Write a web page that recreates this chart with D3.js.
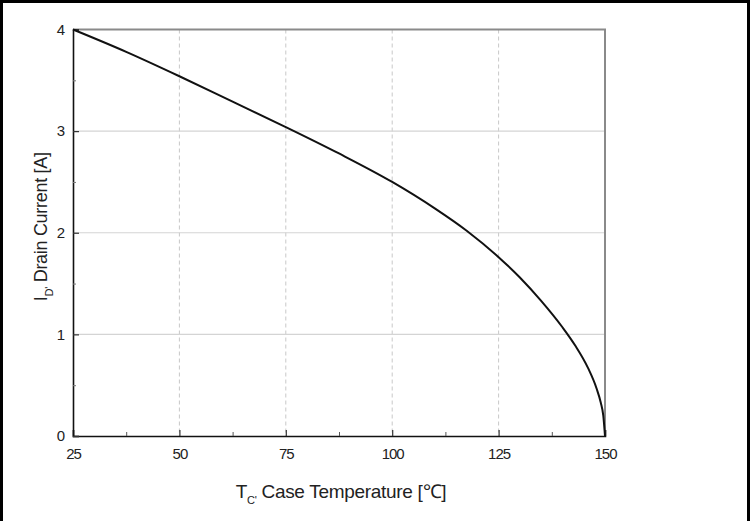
<!DOCTYPE html>
<html><head><meta charset="utf-8">
<script src="https://cdn.jsdelivr.net/npm/d3@7"></script>
<style>
html,body{margin:0;padding:0;background:#fff;}
svg{display:block;font-family:"Liberation Sans",Arial,sans-serif;}
</style></head>
<body>
<svg id="c" width="755" height="521"></svg>
<script>
// Data
const temps = [25, 37.5, 50, 62.5, 75, 87.5, 100, 110, 117.5, 125, 130, 135, 140, 143, 146, 148, 149, 149.6, 150];
const current = [4.00, 3.78, 3.54, 3.29, 3.04, 2.78, 2.50, 2.24, 2.02, 1.76, 1.56, 1.33, 1.07, 0.89, 0.67, 0.47, 0.33, 0.20, 0];
const xTicks = [25, 50, 75, 100, 125, 150];
const xMinor = [37.5, 62.5, 87.5, 112.5, 137.5];
const yTicks = [0, 1, 2, 3, 4];
const yMinor = [0.5, 1.5, 2.5, 3.5];

const svg = d3.select("#c");
const L = 73, R = 605, T = 29.5, B = 436;
const x = d3.scaleLinear().domain([25, 150]).range([L, R]);
const y = d3.scaleLinear().domain([0, 4]).range([B, T]);

// outer frame (top, left, right)
svg.append("path").attr("d", `M1.5,${523} V1.5 H748.5 V523`).attr("fill","none").attr("stroke","#000").attr("stroke-width",3);

// grid
svg.append("g").selectAll("line").data(xTicks.slice(1, -1)).join("line")
  .attr("x1", d => x(d)).attr("x2", d => x(d)).attr("y1", T).attr("y2", B)
  .attr("stroke", "#c8c8c8").attr("stroke-width", 1).attr("stroke-dasharray", "4,3");
svg.append("g").selectAll("line").data(yTicks.slice(1, -1)).join("line")
  .attr("y1", d => y(d)).attr("y2", d => y(d)).attr("x1", L).attr("x2", R)
  .attr("stroke", "#d4d4d4").attr("stroke-width", 1.2);

// top/right frame (gray)
svg.append("path").attr("d", `M${L},${T} H${R} V${B}`).attr("fill","none").attr("stroke","#8a8a8a").attr("stroke-width",2);

// axes
const xAxis = d3.axisBottom(x).tickValues(xTicks).tickSize(-6).tickPadding(12).tickFormat(d3.format("d"));
const gx = svg.append("g").attr("transform", `translate(0,${B})`).call(xAxis);
gx.select(".domain").attr("stroke", "#111").attr("stroke-width", 1.6);
gx.selectAll(".tick line").attr("stroke", "#333").attr("stroke-width", 1.2);
gx.selectAll("text").style("font-size", "15px").attr("fill", "#222").attr("letter-spacing", "-1px");
svg.append("g").attr("transform", `translate(0,${B})`).call(d3.axisBottom(x).tickValues(xMinor).tickSize(-4).tickFormat(""))
  .call(g => g.select(".domain").remove())
  .selectAll(".tick line").attr("stroke", "#555").attr("stroke-width", 1);

const yAxis = d3.axisLeft(y).tickValues(yTicks).tickSize(-6).tickPadding(8).tickFormat(d3.format("d"));
const gy = svg.append("g").attr("transform", `translate(${L},0)`).call(yAxis);
gy.select(".domain").attr("stroke", "#111").attr("stroke-width", 1.6);
gy.selectAll(".tick line").attr("stroke", "#333").attr("stroke-width", 1.2);
gy.selectAll("text").style("font-size", "15px").attr("fill", "#222");
svg.append("g").attr("transform", `translate(${L},0)`).call(d3.axisLeft(y).tickValues(yMinor).tickSize(-3).tickFormat(""))
  .call(g => g.select(".domain").remove())
  .selectAll(".tick line").attr("stroke", "#777").attr("stroke-width", 1);

// curve
const pts = temps.map((t, i) => [t, current[i]]);
svg.append("path").datum(pts)
  .attr("d", d3.line().x(d => x(d[0])).y(d => y(d[1])).curve(d3.curveMonotoneX))
  .attr("fill", "none").attr("stroke", "#111").attr("stroke-width", 2);

// axis titles
const xt = svg.append("text").attr("x", (L + R) / 2 + 2).attr("y", 498).attr("text-anchor", "middle")
  .attr("font-size", 19).attr("fill", "#222").attr("letter-spacing", "-0.3px");
xt.append("tspan").text("T");
xt.append("tspan").attr("font-size", 11).attr("dy", 6).text("C'");
xt.append("tspan").attr("dy", -6).text(" Case Temperature [℃]");

const yt = svg.append("text").attr("transform", `translate(47,${(T + B) / 2 - 6}) rotate(-90)`).attr("text-anchor", "middle")
  .attr("font-size", 18).attr("fill", "#222").attr("letter-spacing", "-0.3px");
yt.append("tspan").text("I");
yt.append("tspan").attr("font-size", 11).attr("dy", 6).text("D'");
yt.append("tspan").attr("dy", -6).text(" Drain Current [A]");
</script>
</body></html>
